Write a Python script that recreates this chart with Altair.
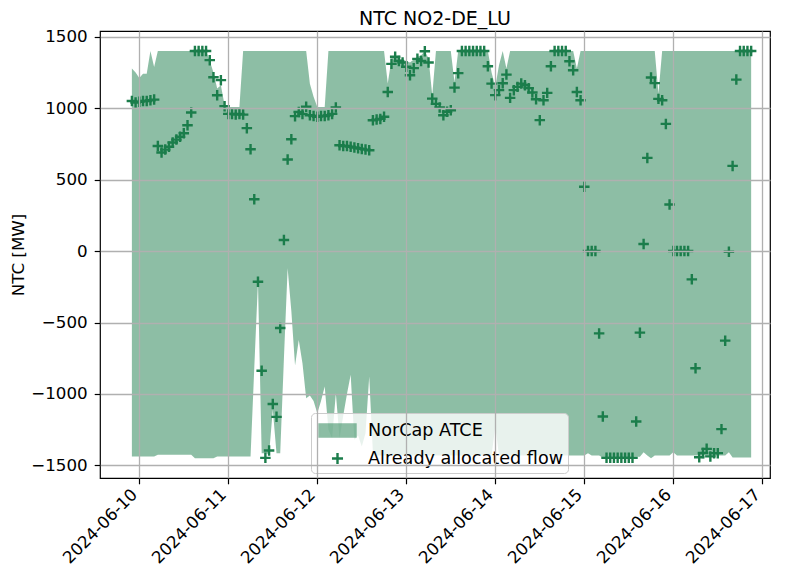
import altair as alt
import pandas as pd

start_time = "2024-06-09 22:00"
n_hours = 168

flow = [1050, 1040, 1045, 1050, 1050, 1055, 1060, 735, 690, 710,
        730, 760, 780, 800, 825, 880, 970, 1400, 1400, 1400,
        1400, 1336, 1216, 1090, 1196, 1014, 960, 960, 955, 960,
        955, 860, 713, 363, -215, -837, -1447, -1396, -1070, -1160,
        -538, 77, 641, 783, 944, 974, 960, 1010, 950, 945,
        940, 945, 945, 950, 960, 1005, 740, 735, 735, 730,
        725, 720, 715, 710, 705, 915, 920, 925, 940, 1113,
        1310, 1360, 1330, 1320, 1290, 1230, 1280, 1345, 1330, 1398,
        1320, 1067, 1030, 1005, 950, 975, 985, 1144, 1245, 1400,
        1400, 1400, 1400, 1400, 1400, 1400, 1293, 1172, 1091, 1126,
        1174, 1235, 1072, 1126, 1149, 1172, 1160, 1140, 1110, 1062,
        916, 1055, 1107, 1293, 1400, 1400, 1400, 1400, 1328, 1265,
        1113, 1055, 450, 0, 0, 0, -576, -1158, -1447, -1447,
        -1447, -1447, -1447, -1447, -1447, -1447, -1193, -571, 49, 652,
        1215, 1175, 1065, 1055, 890, 326, 0, 0, 0, 0,
        0, -198, -820, -1443, -1413, -1384, -1437, -1414, -1414, -1246,
        -627, -5, 596, 1200, 1400, 1400, 1400, 1400]

upper = [1277, 1250, 1211, 1240, 1240, 1400, 1288, 1400, 1400, 1400,
         1400, 1400, 1400, 1400, 1400, 1400, 1400, 1400, 1400, 1400,
         1400, 1330, 1250, 1137, 1160, 1020, 1009, 1009, 1009, 1009,
         1400, 1400, 1400, 1400, 1400, 1400, 1400, 1400, 1400, 1400,
         1400, 1400, 1400, 1400, 1400, 1400, 1400, 1400, 1170, 1080,
         1009, 1009, 1009, 1400, 1400, 1400, 1400, 1400, 1400, 1400,
         1400, 1400, 1400, 1400, 1400, 1400, 1400, 1400, 1400, 1172,
         1340, 1370, 1350, 1340, 1330, 1320, 1340, 1360, 1370, 1398,
         1350, 1090, 1400, 1400, 1400, 1400, 1400, 1183, 1400, 1400,
         1400, 1400, 1400, 1400, 1400, 1400, 1400, 1250, 1150, 1300,
         1400, 1277, 1400, 1400, 1400, 1400, 1400, 1400, 1400, 1400,
         1400, 1400, 1400, 1400, 1400, 1400, 1400, 1400, 1400, 1400,
         1277, 1400, 1400, 1400, 1400, 1400, 1400, 1400, 1400, 1400,
         1400, 1400, 1400, 1400, 1400, 1400, 1400, 1400, 1400, 1400,
         1400, 1400, 1102, 1400, 1400, 1400, 1400, 1400, 1400, 1400,
         1400, 1400, 1400, 1400, 1400, 1400, 1400, 1400, 1400, 1400,
         1400, 1400, 1400, 1400, 1400, 1400, 1400, 1400]

lower = [-1437, -1437, -1437, -1437, -1437, -1437, -1437, -1426, -1426, -1426,
         -1426, -1426, -1426, -1426, -1426, -1426, -1426, -1450, -1450, -1450,
         -1450, -1450, -1450, -1437, -1437, -1437, -1437, -1437, -1437, -1437,
         -1437, -1437, -1437, -820, -215, -1414, -1414, -1420, -1111, -1414,
         -1414, -750, -121, -420, -800, -622, -785, -1030, -1010, -1050,
         -1135, -1050, -948, -1250, -1310, -995, -1310, -1150, -1000, -866,
         -1320, -1290, -1367, -1274, -878, -1414, -1430, -1430, -1430, -1430,
         -1430, -1430, -1430, -1430, -1430, -1430, -1430, -1430, -1430, -1430,
         -1430, -1430, -1430, -1430, -1430, -1430, -1430, -1430, -1430, -1430,
         -1430, -1430, -1430, -1430, -1430, -1430, -1430, -1430, -1228, -1430,
         -1430, -1430, -1430, -1430, -1430, -1430, -1430, -1430, -1430, -1430,
         -1430, -1430, -1430, -1430, -1430, -1430, -1430, -1430, -1430, -1430,
         -1430, -1430, -1430, -1414, -1430, -1430, -1430, -1447, -1440, -1440,
         -1440, -1440, -1440, -1440, -1440, -1440, -1440, -1440, -1407, -1430,
         -1450, -1430, -1430, -1430, -1430, -1430, -1407, -1430, -1430, -1430,
         -1430, -1430, -1430, -1430, -1430, -1430, -1430, -1430, -1430, -1430,
         -1430, -1407, -1444, -1444, -1444, -1444, -1444, -1444]

series_names = ["NorCap ATCE", "Already allocated flow"]
y_ticks = [-1500, -1000, -500, 0, 500, 1000, 1500]
green = "#1b7d4b"

times = pd.date_range(start_time, periods=n_hours, freq="h").strftime("%Y-%m-%dT%H:%M:%SZ")
df = pd.DataFrame({"time": times, "flow": flow, "upper": upper, "lower": lower})

day_ticks = [alt.DateTime(year=2024, month=6, date=d, utc=True) for d in range(10, 18)]
x_domain = [alt.DateTime(year=2024, month=6, date=9, hours=13, minutes=24, utc=True),
            alt.DateTime(year=2024, month=6, date=17, hours=2, minutes=5, utc=True)]

font = "DejaVu Sans"

x_enc = alt.X("time:T", scale=alt.Scale(type="utc", domain=x_domain),
              axis=alt.Axis(values=day_ticks, format="%Y-%m-%d", title=None,
                            labelAngle=-45, labelAlign="right", labelBaseline="middle",
                            labelPadding=8, labelOffset=-5, labelOverlap=False, zindex=1))
y_scale = alt.Scale(domain=[-1588, 1540], nice=False, zero=False)

is_area = "datum.value === 'NorCap ATCE'"
legend = alt.Legend(
    orient="none", legendX=211, legendY=382, title=None,
    symbolSize=576, labelFontSize=17.6, labelFont=font, labelColor="black", labelLimit=400,
    fillColor="rgba(255,255,255,0.8)", strokeColor="#cccccc", cornerRadius=4,
    padding=4, rowPadding=3, symbolOffset=3, labelOffset=23,
    symbolType=alt.ExprRef(expr=f"{is_area} ? 'M-1,-0.5H2V0.5H-1Z' : 'M0.04,0H0.96M0.5,-0.46V0.46'"),
    symbolStrokeColor=alt.ExprRef(expr=f"{is_area} ? 'transparent' : '{green}'"),
    symbolFillColor=green,
    symbolOpacity=alt.ExprRef(expr=f"{is_area} ? 0.5 : 1"),
    symbolStrokeWidth=2.4,
)
color_scale = alt.Scale(domain=series_names, range=[green, green])

area = alt.Chart(df).mark_area(opacity=0.5).encode(
    x=x_enc,
    y=alt.Y("upper:Q", scale=y_scale,
            axis=alt.Axis(values=y_ticks, format="d", title="NTC [MW]", zindex=1)),
    y2="lower:Q",
    color=alt.Color("series:N", scale=color_scale, legend=legend),
).transform_calculate(series="'NorCap ATCE'")

points = alt.Chart(df).mark_point(
    shape="M-1,0H1M0,-1V1", filled=False, size=110, strokeWidth=2.4, opacity=1
).encode(
    x=x_enc,
    y=alt.Y("flow:Q", scale=y_scale),
    color=alt.Color("series:N", scale=color_scale, legend=legend),
).transform_calculate(series="'Already allocated flow'")

chart = alt.layer(area, points).properties(
    width=670, height=447,
    title=alt.TitleParams("NTC NO2-DE_LU", fontSize=19, font=font, fontWeight="normal",
                          color="black", anchor="middle", offset=0),
    autosize=alt.AutoSizeParams(type="none"),
    padding={"left": 92, "top": 23, "right": 7, "bottom": 93},
).configure_view(
    stroke="black", strokeWidth=1.2
).configure_axis(
    grid=True, gridColor="#b0b0b0", gridWidth=1.3, domain=False,
    tickColor="black", tickSize=5.8, tickWidth=1.2,
    labelFont=font, labelFontSize=16.7, labelColor="black",
    titleFont=font, titleFontSize=16.7, titleFontWeight="normal", titleColor="black",
    zindex=1
).configure_axisY(
    labelPadding=7, titlePadding=3
)

chart.save("out.html", embed_options={"renderer": "svg", "actions": False})
